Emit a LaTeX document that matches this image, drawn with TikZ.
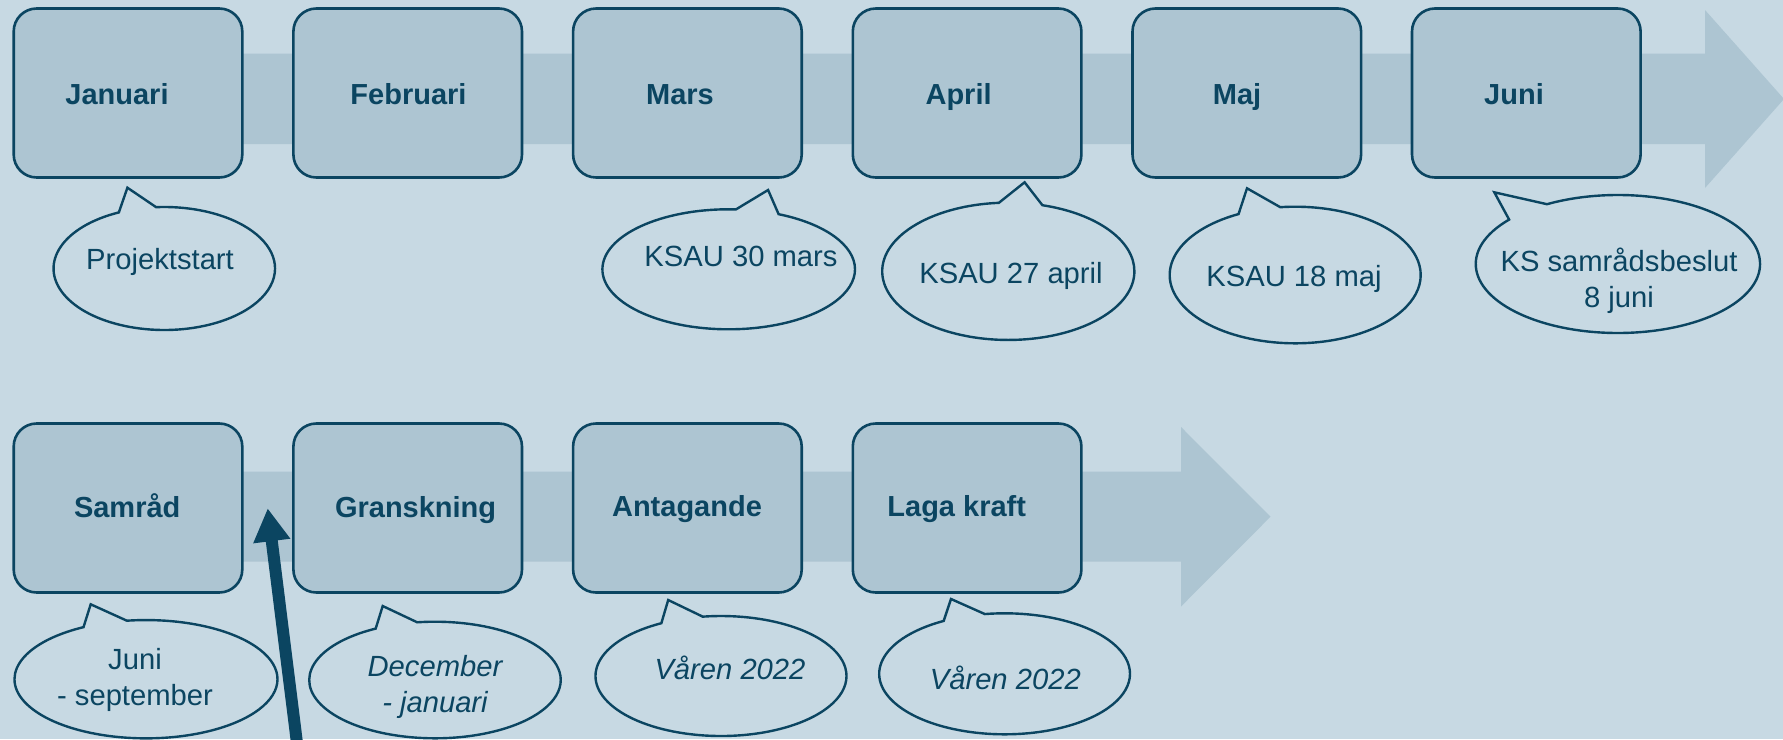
\documentclass[tikz,border=0pt]{standalone}
\usepackage{fontspec}
\setmainfont{Liberation Sans}
\usetikzlibrary{shapes.callouts,arrows.meta}
\definecolor{bg}{HTML}{C7D9E3}
\definecolor{band}{HTML}{ADC5D2}
\definecolor{dk}{HTML}{0B4561}
\begin{document}
\begin{tikzpicture}[x=0.5pt,y=-0.5pt,
  box/.style={draw=dk, line width=1.3pt, fill=band, rounded corners=11.5pt,
    minimum width=114.3pt, minimum height=84.5pt, inner sep=0pt},
  lab/.style={text=dk, font=\fontsize{14.5}{17}\selectfont\bfseries, inner sep=0pt,
    text height=.72em, text depth=0pt},
  bub/.style={ellipse callout, draw=dk, line width=1.2pt, fill=bg, inner sep=0pt,
    callout pointer arc=20},
  btxt/.style={text=dk, font=\fontsize{14.6}{18}\selectfont, inner sep=0pt, align=center},
  one/.style={text height=.72em, text depth=0pt},
  band/.style={fill=band, draw=none}
]
\useasboundingbox (0,0) rectangle (1783,739);
\clip (0,0) rectangle (1783,739);
\fill[bg] (0,0) rectangle (1783,739);

% timeline bands
\fill[band] (14,53.5) -- (1705,53.5) -- (1705,10) -- (1784,99) -- (1705,188)
  -- (1705,144) -- (14,144) -- cycle;
\fill[band] (14,471.7) -- (1181,471.7) -- (1181,427) -- (1270.5,516.7)
  -- (1181,606.5) -- (1181,561.7) -- (14,561.7) -- cycle;

% row 1 boxes
\node[box] (jan) at (128,93) {};
\node[box] (feb) at (407.7,93) {};
\node[box] (mar) at (687.4,93) {};
\node[box] (apr) at (967.1,93) {};
\node[box] (maj) at (1246.8,93) {};
\node[box] (jun) at (1526.3,93) {};
\node[lab] (janl) at (117,97.5) {Januari};
\node[lab] (febl) at (408.5,97.5) {Februari};
\node[lab] (marl) at (680,97.5) {Mars};
\node[lab] (aprl) at (958.6,97.5) {April};
\node[lab] (majl) at (1237,97.5) {Maj};
\node[lab] (junl) at (1514,97.5) {Juni};

% row 2 boxes
\node[box] (sam) at (128,508) {};
\node[box] (gra) at (407.7,508) {};
\node[box] (ant) at (687.4,508) {};
\node[box] (lag) at (967.1,508) {};
\node[lab] (saml) at (127.2,510.5) {Samråd};
\node[lab] (gral) at (415.6,510) {Granskning};
\node[lab] (antl) at (687,509) {Antagande};
\node[lab] (lagl) at (956.7,509) {Laga kraft};

% callouts row 1
\node[bub, minimum width=110.75pt, minimum height=61.5pt,
  callout absolute pointer={(127.4,187.7)}] (c1) at (164.3,268.5) {};
\node[btxt, one] (t1) at (160,262.5) {Projektstart};
\node[bub, minimum width=126.3pt, minimum height=60pt,
  callout absolute pointer={(768.1,190)}] (c2) at (728.7,269.3) {};
\node[btxt, one] (t2) at (741,259.5) {KSAU 30 mars};
\node[bub, minimum width=126.1pt, minimum height=68.65pt,
  callout absolute pointer={(1024.6,182.3)}] (c3) at (1008.3,271.3) {};
\node[btxt, one] (t3) at (1011,276.5) {KSAU 27 april};
\node[bub, minimum width=125.5pt, minimum height=68.3pt,
  callout absolute pointer={(1247,188.3)}] (c4) at (1295.2,275) {};
\node[btxt, one] (t4) at (1294,279.5) {KSAU 18 maj};
\node[bub, minimum width=142.15pt, minimum height=69pt,
  callout absolute pointer={(1494.3,192.3)}] (c5) at (1617.9,264) {};
\node[btxt] (t5) at (1619,281) {KS samrådsbeslut\\8 juni};

% callouts row 2
\node[bub, minimum width=131.5pt, minimum height=59.15pt,
  callout absolute pointer={(90.7,604.3)}] (c6) at (146,679.2) {};
\node[btxt] (t6) at (135,680) {Juni\\- september};
\node[bub, minimum width=125.75pt, minimum height=58.3pt,
  callout absolute pointer={(382.7,606)}] (c7) at (435,680) {};
\node[btxt, font=\fontsize{14.6}{18}\selectfont\itshape] (t7) at (435,687) {December\\- januari};
\node[bub, minimum width=125.5pt, minimum height=60pt,
  callout absolute pointer={(668.2,600)}] (c8) at (721,676) {};
\node[btxt, one, font=\fontsize{14.6}{18}\selectfont\itshape] (t8) at (730,672.5) {Våren 2022};
\node[bub, minimum width=125.4pt, minimum height=60.5pt,
  callout absolute pointer={(951,599)}] (c9) at (1004.6,673.8) {};
\node[btxt, one, font=\fontsize{14.6}{18}\selectfont\itshape] (t9) at (1005.3,682.5) {Våren 2022};

% dark pointer arrow
\coordinate (arrS) at (299.1,760);
\coordinate (arrT) at (267.7,508.3);
\draw[dk, line width=6pt, -{Triangle[length=16.5pt,width=17.5pt]}] (arrS) -- (arrT);
\end{tikzpicture}
\end{document}
